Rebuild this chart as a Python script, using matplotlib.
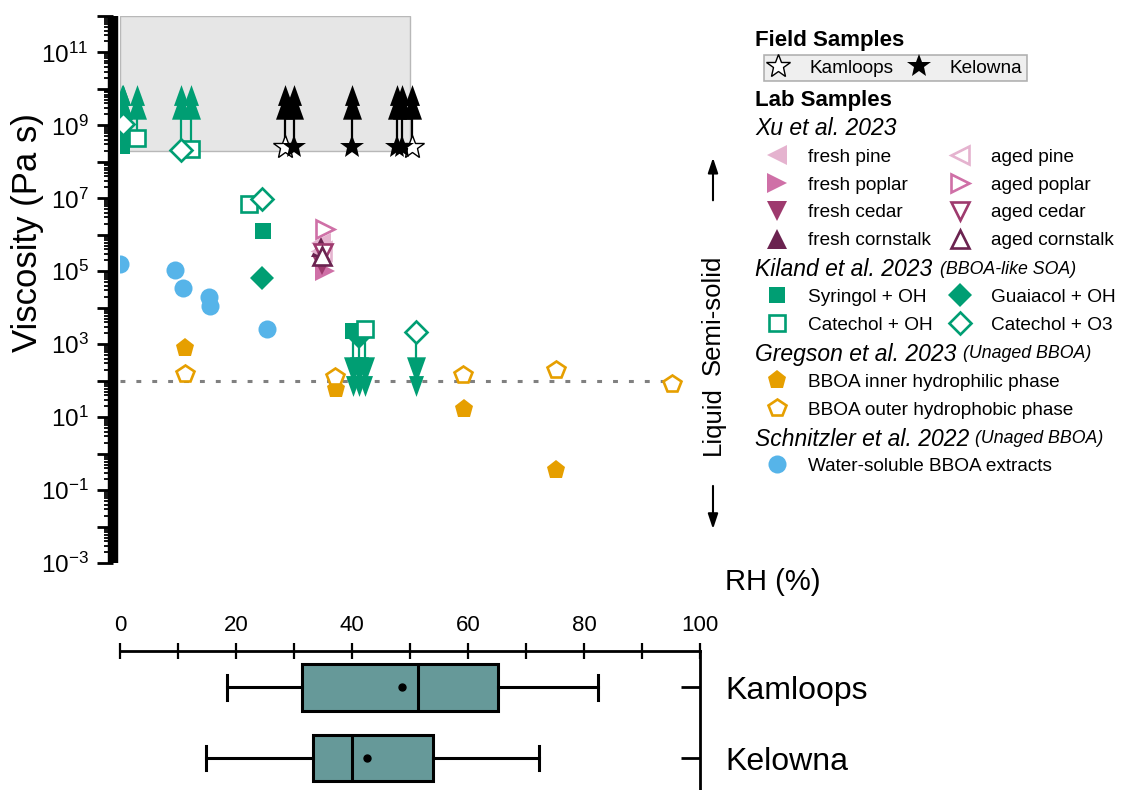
import matplotlib
matplotlib.use("Agg")
import matplotlib.pyplot as plt
from matplotlib.patches import Rectangle
from matplotlib.ticker import FixedLocator, FuncFormatter, NullFormatter

plt.rcParams['font.family'] = ['Liberation Sans', 'DejaVu Sans']
plt.rcParams['mathtext.fontset'] = 'custom'
plt.rcParams['mathtext.rm'] = 'Liberation Sans'
plt.rcParams['mathtext.it'] = 'Liberation Sans:italic'

# ---------------- data ----------------
# Field samples (lower limits)
kamloops_rh = [28.5, 50.3]
kamloops_v = [2.5e8, 2.5e8]
kelowna_rh = [30.0, 40.0, 47.8, 48.6]
kelowna_v = [2.5e8, 2.5e8, 2.5e8, 2.5e8]

# Xu et al. 2023
xu_labels = ['fresh pine', 'fresh poplar', 'fresh cedar', 'fresh cornstalk',
             'aged pine', 'aged poplar', 'aged cedar', 'aged cornstalk']
xu_rh = [34.6, 35.3, 34.8, 34.7, 34.8, 35.3, 35.0, 34.8]
xu_v = [6.0e5, 1.0e5, 1.5e5, 4.6e5, 3.5e5, 1.4e6, 3.2e5, 2.6e5]

# Kiland et al. 2023 ('up' = lower limit, 'down' = upper limit)
syringol_rh = [0.3, 0.6, 24.7, 40.2]
syringol_v = [2.8e8, 6.0e8, 1.26e6, 2.3e3]
syringol_lim = ['up', 'up', '', 'down']
guaiacol_rh = [24.4, 41.2]
guaiacol_v = [6.5e4, 1.6e3]
guaiacol_lim = ['', 'down']
catechol_oh_rh = [3.0, 12.2, 22.3, 42.2]
catechol_oh_v = [4.4e8, 2.3e8, 6.8e6, 2.6e3]
catechol_oh_lim = ['up', 'up', '', 'down']
catechol_o3_rh = [0.6, 10.5, 24.5, 51.1]
catechol_o3_v = [1.1e9, 2.1e8, 9.3e6, 2.1e3]
catechol_o3_lim = ['up', 'up', '', 'down']

# Gregson et al. 2023
inner_rh = [11.2, 37.2, 59.3, 75.2]
inner_v = [800, 58, 17, 0.36]
outer_rh = [11.2, 37.1, 59.1, 75.2, 95.2]
outer_v = [150, 130, 140, 195, 82]

# Schnitzler et al. 2022
schn_rh = [0.0, 9.5, 10.9, 15.3, 15.5, 25.3]
schn_v = [1.6e5, 1.1e5, 3.5e4, 2.0e4, 1.1e4, 2.6e3]

# thresholds
glass_v = 2.0e8
semisolid_v = 1.0e2

# RH box plot statistics
box_sites = ['Kamloops', 'Kelowna']
box_whislo = [18.4, 14.9]
box_q1 = [31.4, 33.2]
box_med = [51.4, 40.0]
box_q3 = [65.2, 54.0]
box_whishi = [82.4, 72.2]
box_mean = [48.7, 42.6]

# ---------------- colours ----------------
GREEN = '#009e73'
ORANGE = '#e69f00'
BLUE = '#56b4e9'
XU_COLORS = ['#e5b3cf', '#cf70a7', '#9e3a6e', '#6b2350']
XU_MARKERS = ['<', '>', 'v', '^']

W, H = 1123, 790
fig = plt.figure(figsize=(W / 100, H / 100), dpi=100)

ax = fig.add_axes([120 / W, 1 - 563 / H, 580 / W, 547 / H])
ax.set_xlim(0, 100)
ax.set_yscale('log')
ax.set_ylim(1e-3, 1e12)

ax.add_patch(Rectangle((0, glass_v), 50, 1e12 - glass_v, facecolor='#e6e6e6',
                       edgecolor='#b8b8b8', lw=1, zorder=0))
ax.plot([0, 97], [semisolid_v, semisolid_v], color='#808080', lw=2.2, ls=(0, (1.6, 3.6)), zorder=1)

TRI_UP = [(-0.36, -0.5), (0.36, -0.5), (0.0, 0.5)]
TRI_DN = [(-0.36, 0.5), (0.36, 0.5), (0.0, -0.5)]
HEAD_UP = (10 ** 9.52, 10 ** 9.84)
HEAD_DN = (10 ** 2.28, 10 ** 1.86)


def limit_arrow(x, v, direction, color, z=2):
    if direction == 'up':
        heads, mk = HEAD_UP, TRI_UP
    elif direction == 'down':
        heads, mk = HEAD_DN, TRI_DN
    else:
        return
    ax.plot([x, x], [v, heads[0]], color=color, lw=1.6, zorder=z)
    ax.plot([x], [heads[0]], ls='none', marker=mk, ms=19, color=color, mew=0, zorder=z)
    ax.plot([x], [heads[1]], ls='none', marker=mk, ms=15, color=color, mew=0, zorder=z)


# field sample arrows
for x, v in zip(kamloops_rh, kamloops_v):
    limit_arrow(x, v, 'up', 'black')
for x, v in zip(kelowna_rh, kelowna_v):
    limit_arrow(x, v, 'up', 'black')

# Kiland arrows
for xs, vs, ls_ in [(syringol_rh, syringol_v, syringol_lim),
                    (guaiacol_rh, guaiacol_v, guaiacol_lim),
                    (catechol_oh_rh, catechol_oh_v, catechol_oh_lim),
                    (catechol_o3_rh, catechol_o3_v, catechol_o3_lim)]:
    for x, v, l in zip(xs, vs, ls_):
        limit_arrow(x, v, l, GREEN)

MEW = 1.9
h = {}
h['schn'], = ax.plot(schn_rh, schn_v, ls='none', marker='o', ms=13, color=BLUE, mew=0, zorder=3)
h['inner'], = ax.plot(inner_rh, inner_v, ls='none', marker='p', ms=14, color=ORANGE, mew=0, zorder=3)
h['outer'], = ax.plot(outer_rh, outer_v, ls='none', marker='p', ms=13, mfc='white', mec=ORANGE, mew=MEW, zorder=3)
h['syr'], = ax.plot(syringol_rh, syringol_v, ls='none', marker='s', ms=11, color=GREEN, mew=0, zorder=3)
h['gua'], = ax.plot(guaiacol_rh, guaiacol_v, ls='none', marker='D', ms=12, color=GREEN, mew=0, zorder=3)
h['cat_oh'], = ax.plot(catechol_oh_rh, catechol_oh_v, ls='none', marker='s', ms=11, mfc='white', mec=GREEN, mew=MEW, zorder=3)
h['cat_o3'], = ax.plot(catechol_o3_rh, catechol_o3_v, ls='none', marker='D', ms=11, mfc='white', mec=GREEN, mew=MEW, zorder=3)

xu_handles = []
for i in range(8):
    c = XU_COLORS[i % 4]
    m = XU_MARKERS[i % 4]
    if i < 4:
        ln, = ax.plot([xu_rh[i]], [xu_v[i]], ls='none', marker=m, ms=14, color=c, mew=0, zorder=4)
    else:
        ln, = ax.plot([xu_rh[i]], [xu_v[i]], ls='none', marker=m, ms=13, mfc='white', mec=c, mew=MEW, zorder=4)
    xu_handles.append(ln)

h['kam'], = ax.plot(kamloops_rh, kamloops_v, ls='none', marker='*', ms=18, mfc='white', mec='black', mew=1.0, zorder=5)
h['kel'], = ax.plot(kelowna_rh, kelowna_v, ls='none', marker='*', ms=18, color='black', mew=0, zorder=5)

# axes styling
for s in ['top', 'right', 'bottom']:
    ax.spines[s].set_visible(False)
ax.spines['left'].set_position(('outward', 5))
ax.spines['left'].set_linewidth(7.5)
ax.spines['left'].set_capstyle('butt')
ax.set_xticks([])
major = [10.0 ** k for k in range(-3, 13)]
minor = [m * 10.0 ** k for k in range(-3, 12) for m in range(2, 10)]
ax.yaxis.set_major_locator(FixedLocator(major))
ax.yaxis.set_minor_locator(FixedLocator(minor))


def fmt(v, pos):
    import math
    k = int(round(math.log10(v)))
    return r'$10^{%d}$' % k if k % 2 != 0 else ''


ax.yaxis.set_major_formatter(FuncFormatter(fmt))
ax.yaxis.set_minor_formatter(NullFormatter())
ax.tick_params(axis='y', which='major', direction='out', length=11.5, width=2, labelsize=17.5, pad=6)
ax.tick_params(axis='y', which='minor', direction='out', length=6.5, width=1.3)

fig.text(28 / W, 1 - 233 / H, 'Viscosity (Pa s)', rotation=90, ha='center', va='center', fontsize=25)

# right annotations
ax.annotate('', xy=(1.0224, 0.746), xytext=(1.0224, 0.658), xycoords='axes fraction',
            arrowprops=dict(arrowstyle='-|>,head_length=0.9,head_width=0.3', color='black', lw=1.5),
            annotation_clip=False)
ax.annotate('', xy=(1.0224, 0.057), xytext=(1.0224, 0.146), xycoords='axes fraction',
            arrowprops=dict(arrowstyle='-|>,head_length=0.9,head_width=0.3', color='black', lw=1.5),
            annotation_clip=False)
ax.text(1.0224, 0.4534, 'Semi-solid', rotation=90, ha='center', va='center', fontsize=18.5,
        transform=ax.transAxes, clip_on=False)
ax.text(1.0224, 0.2596, 'Liquid', rotation=90, ha='center', va='center', fontsize=18.5,
        transform=ax.transAxes, clip_on=False)
ax.text(1.043, -0.0347, 'RH (%)', ha='left', va='center', fontsize=21,
        transform=ax.transAxes, clip_on=False)

# ---------------- box plot ----------------
ax2 = fig.add_axes([120 / W, 0, 580 / W, 139 / H])
stats = []
for i in range(2):
    stats.append(dict(label=box_sites[i], whislo=box_whislo[i], q1=box_q1[i], med=box_med[i],
                      q3=box_q3[i], whishi=box_whishi[i], mean=box_mean[i], fliers=[]))
bkw = dict(positions=[1, 2], widths=0.66, patch_artist=True, showmeans=True, showfliers=False,
           boxprops=dict(facecolor='#669999', edgecolor='black', lw=2.2),
           medianprops=dict(color='black', lw=2.2),
           whiskerprops=dict(color='black', lw=2.2),
           capprops=dict(color='black', lw=2.2),
           meanprops=dict(marker='o', markerfacecolor='black', markeredgecolor='black', ms=5))
try:
    ax2.bxp(stats, orientation='horizontal', capwidths=0.35, **bkw)
except TypeError:
    ax2.bxp(stats, vert=False, **bkw)
ax2.set_xlim(0, 100)
ax2.set_ylim(2.45, 0.49)
ax2.spines['left'].set_visible(False)
ax2.spines['bottom'].set_visible(False)
ax2.spines['top'].set_linewidth(2)
ax2.spines['right'].set_linewidth(2)
ax2.xaxis.set_ticks_position('top')
ax2.xaxis.set_label_position('top')
ax2.set_xticks([0, 20, 40, 60, 80, 100])
ax2.set_xticks([10, 30, 50, 70, 90], minor=True)
ax2.tick_params(axis='x', which='both', direction='inout', length=12, width=1.6, labelsize=16, pad=5)
ax2.yaxis.set_ticks_position('right')
ax2.set_yticks([1, 2])
ax2.set_yticklabels(box_sites)
ax2.tick_params(axis='y', which='both', direction='in', length=14, width=2, labelsize=23, pad=18)
ax2.yaxis.set_minor_locator(FixedLocator([]))

# ---------------- legends ----------------
FS = 13.7
FPX = FS * 100 / 72
TXT_H = 0.915 * FPX
HL = 1.0
TP = 1.13
LSP = (28 - TXT_H) / FPX
YSHIFT = 2


def col_legend(handles, labels, x_marker_px, y_first_px, frame=False, ncol=1, colsp=0.9):
    x0 = x_marker_px - 0.5 * HL * FPX
    top = y_first_px + YSHIFT - 0.5 * TXT_H
    if frame:
        x0 -= 0.25 * FPX
        top -= 0.25 * FPX
    leg = fig.legend(handles, labels, loc='upper left', bbox_to_anchor=(x0 / W, 1 - top / H),
                     frameon=frame, fontsize=FS, handlelength=HL, handletextpad=TP,
                     labelspacing=LSP, borderpad=0.25 if frame else 0, borderaxespad=0,
                     ncol=ncol, columnspacing=colsp, fancybox=False)
    if frame:
        leg.get_frame().set_facecolor('#ececec')
        leg.get_frame().set_edgecolor('#a0a0a0')
        leg.get_frame().set_linewidth(1.2)
    return leg


HX = 755
fig.text(HX / W, 1 - 38 / H, 'Field Samples', fontsize=16, weight='bold', va='center_baseline')
col_legend([h['kam'], h['kel']], ['Kamloops', 'Kelowna'], 778, 66, frame=True, ncol=2, colsp=0.85)
fig.text(HX / W, 1 - 98 / H, 'Lab Samples', fontsize=16, weight='bold', va='center_baseline')
fig.text(HX / W, 1 - 126 / H, 'Xu et al. 2023', fontsize=16.5, style='italic', va='center_baseline')
col_legend(xu_handles[:4], xu_labels[:4], 777, 155)
col_legend(xu_handles[4:], xu_labels[4:], 960, 155)
fig.text(HX / W, 1 - 267 / H, 'Kiland et al. 2023', fontsize=16.5, style='italic', va='center_baseline')
fig.text(940 / W, 1 - 267 / H, '(BBOA-like SOA)', fontsize=12.8, style='italic', va='center_baseline')
col_legend([h['syr'], h['cat_oh']], ['Syringol + OH', 'Catechol + OH'], 777, 295)
col_legend([h['gua'], h['cat_o3']], ['Guaiacol + OH', 'Catechol + O3'], 960, 295)
fig.text(HX / W, 1 - 352 / H, 'Gregson et al. 2023', fontsize=16.5, style='italic', va='center_baseline')
fig.text(963 / W, 1 - 352 / H, '(Unaged BBOA)', fontsize=12.8, style='italic', va='center_baseline')
col_legend([h['inner'], h['outer']], ['BBOA inner hydrophilic phase', 'BBOA outer hydrophobic phase'], 777, 380)
fig.text(HX / W, 1 - 437 / H, 'Schnitzler et al. 2022', fontsize=16.5, style='italic', va='center_baseline')
fig.text(975 / W, 1 - 437 / H, '(Unaged BBOA)', fontsize=12.8, style='italic', va='center_baseline')
col_legend([h['schn']], ['Water-soluble BBOA extracts'], 777, 464)

fig.savefig('out.png', dpi=100)
